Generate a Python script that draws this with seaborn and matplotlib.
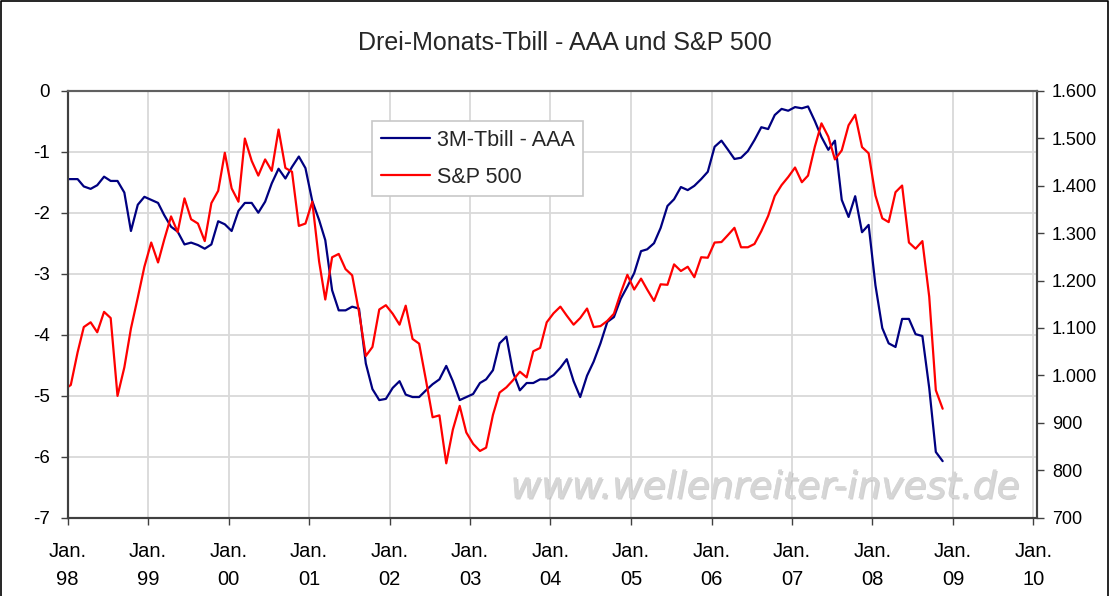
import pandas as pd
import matplotlib
matplotlib.use('Agg')
import matplotlib.pyplot as plt
import matplotlib.patheffects as pe
from matplotlib.lines import Line2D
from matplotlib.ticker import FuncFormatter
import seaborn as sns

# monthly values (mid-month), Dec 97 .. Nov 08
months = pd.date_range('1997-12-01', '2008-11-01', freq='MS') + pd.Timedelta(days=14)

tbill_aaa = [
    -1.45,
    -1.45, -1.45, -1.57, -1.61, -1.55, -1.41, -1.48, -1.48, -1.67, -2.30, -1.87, -1.74,
    -1.79, -1.84, -2.04, -2.23, -2.31, -2.52, -2.49, -2.53, -2.59, -2.52, -2.14, -2.19,
    -2.30, -1.97, -1.84, -1.84, -2.00, -1.82, -1.52, -1.28, -1.44, -1.25, -1.08, -1.27,
    -1.81, -2.12, -2.45, -3.27, -3.60, -3.60, -3.54, -3.57, -4.47, -4.89, -5.07, -5.05,
    -4.87, -4.76, -4.98, -5.02, -5.02, -4.91, -4.81, -4.73, -4.51, -4.76, -5.07, -5.02,
    -4.97, -4.79, -4.73, -4.58, -4.14, -4.03, -4.61, -4.91, -4.79, -4.79, -4.73, -4.73,
    -4.66, -4.54, -4.40, -4.76, -5.02, -4.67, -4.44, -4.14, -3.79, -3.71, -3.41, -3.21,
    -2.99, -2.63, -2.60, -2.50, -2.25, -1.89, -1.78, -1.58, -1.63, -1.56, -1.45, -1.33,
    -0.92, -0.82, -0.96, -1.12, -1.10, -0.99, -0.81, -0.60, -0.63, -0.40, -0.30, -0.33,
    -0.27, -0.29, -0.26, -0.50, -0.76, -0.97, -0.82, -1.79, -2.07, -1.73, -2.32, -2.20,
    -3.19, -3.89, -4.14, -4.20, -3.74, -3.74, -3.99, -4.02, -4.87, -5.92, -6.07,
]

sp500 = [
    970,
    980, 1049, 1102, 1112, 1091, 1134, 1121, 957, 1017, 1099, 1164, 1229,
    1280, 1238, 1286, 1335, 1302, 1373, 1329, 1320, 1283, 1363, 1389, 1469,
    1394, 1366, 1499, 1452, 1421, 1455, 1431, 1518, 1437, 1429, 1315, 1320,
    1366, 1240, 1160, 1249, 1256, 1224, 1211, 1134, 1041, 1060, 1139, 1148,
    1130, 1107, 1147, 1077, 1067, 990, 912, 916, 815, 886, 936, 880,
    856, 841, 848, 917, 964, 975, 990, 1008, 996, 1051, 1058, 1112,
    1131, 1145, 1126, 1107, 1121, 1141, 1102, 1104, 1115, 1130, 1174, 1212,
    1181, 1204, 1181, 1157, 1192, 1191, 1234, 1220, 1229, 1207, 1249, 1248,
    1280, 1281, 1295, 1311, 1270, 1270, 1277, 1304, 1336, 1378, 1401, 1418,
    1438, 1407, 1421, 1482, 1531, 1503, 1455, 1474, 1527, 1549, 1481, 1468,
    1379, 1331, 1323, 1386, 1400, 1280, 1267, 1283, 1166, 969, 930,
]

year_ticks = pd.date_range('1998-01-01', '2010-01-01', freq='YS')
year_labels = [f"Jan.\n{d.year % 100:02d}" for d in year_ticks]

sns.set_theme(style='white')
plt.rcParams['font.family'] = ['Liberation Sans', 'DejaVu Sans']
plt.rcParams['axes.unicode_minus'] = False

df = pd.DataFrame({'Monat': months, 'tbill': tbill_aaa, 'sp': sp500})

fig = plt.figure(figsize=(11.1, 5.96), dpi=100)
ax = fig.add_axes([0.061, 0.131, 0.873, 0.717])
ax2 = ax.twinx()

sns.lineplot(data=df, x='Monat', y='tbill', ax=ax, color='#000080', lw=1.6, legend=False)
sns.lineplot(data=df, x='Monat', y='sp', ax=ax2, color='#ff0000', lw=1.6, legend=False)

ax.set_xlim(pd.Timestamp('1998-01-01'), pd.Timestamp('2010-01-16'))
ax.set_ylim(-7, 0)
ax2.set_ylim(700, 1600)
ax.set_yticks(range(-7, 1))
ax2.set_yticks(range(700, 1601, 100))
ax2.yaxis.set_major_formatter(FuncFormatter(lambda v, p: f"{v:,.0f}".replace(',', '.')))
ax.set_xticks(year_ticks)
ax.set_xticklabels(year_labels, linespacing=1.6)

for a in (ax, ax2):
    a.set_xlabel('')
    a.set_ylabel('')
    for s in a.spines.values():
        s.set_color('#404040')
        s.set_linewidth(1.5)
    a.spines['top'].set_color('#606060')

ax.grid(True, color='#d9d9d9', lw=1.3)
ax.tick_params(axis='y', left=True, direction='out', length=5, width=1,
               color='#404040', labelsize=13.5, labelcolor='black', pad=8)
ax.tick_params(axis='x', bottom=True, direction='out', length=5, width=1,
               color='#404040', labelsize=14.5, labelcolor='black', pad=12)
ax2.tick_params(axis='y', right=True, direction='out', length=5, width=1,
                color='#404040', labelsize=13, labelcolor='black', pad=6)

handles = [Line2D([], [], color='#000080', lw=1.6), Line2D([], [], color='#ff0000', lw=1.6)]
leg = ax2.legend(handles, ['3M-Tbill - AAA', 'S&P 500'], loc='upper left',
                 bbox_to_anchor=(0.314, 0.929), borderaxespad=0, frameon=True, fancybox=False,
                 edgecolor='#c8c8c8', framealpha=1, fontsize=15.5, handlelength=2.3,
                 handletextpad=0.3, labelspacing=0.75, borderpad=0.4)
leg.get_frame().set_linewidth(1.2)

fig.text(0.509, 0.928, 'Drei-Monats-Tbill - AAA und S&P 500', ha='center', va='center', fontsize=18)

fig.text(0.689, 0.181, 'www.wellenreiter-invest.de', ha='center', va='center', fontsize=27,
         style='italic', family='DejaVu Sans', color='#d6d6d6', zorder=0,
         path_effects=[pe.withSimplePatchShadow(offset=(1, -1), shadow_rgbFace='#b4b4b4', alpha=0.6), pe.Normal()])

# outer frame (left, top, right)
fig.add_artist(Line2D([0.001, 0.001, 0.998, 0.998], [0, 0.998, 0.998, 0], transform=fig.transFigure,
                      color='black', lw=1.2))

fig.savefig('out.png', dpi=100)
